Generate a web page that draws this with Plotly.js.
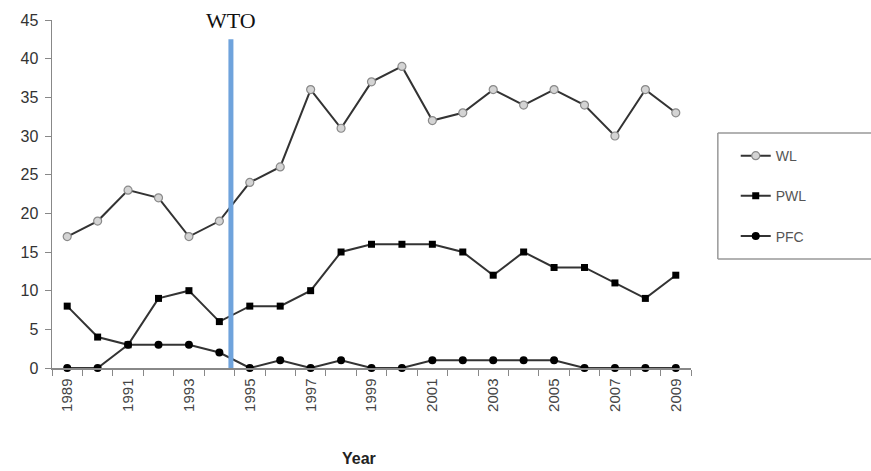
<!DOCTYPE html>
<html>
<head>
<meta charset="utf-8">
<script src="https://cdn.plot.ly/plotly-3.0.1.min.js"></script>
<style>html,body{margin:0;padding:0;background:#fff;overflow:hidden;}#chart{width:871px;height:471px;}</style>
</head>
<body>
<div id="chart"></div>
<script>
var years = [1989,1990,1991,1992,1993,1994,1995,1996,1997,1998,1999,2000,2001,2002,2003,2004,2005,2006,2007,2008,2009];
var WL  = [17,19,23,22,17,19,24,26,36,31,37,39,32,33,36,34,36,34,30,36,33];
var PWL = [8,4,3,9,10,6,8,8,10,15,16,16,16,15,12,15,13,13,11,9,12];
var PFC = [0,0,3,3,3,2,0,1,0,1,0,0,1,1,1,1,1,0,0,0,0];
var tickYears = [1989,1991,1993,1995,1997,1999,2001,2003,2005,2007,2009];
var wtoYear = 1994.38;
var wtoTop = 42.5;
var wtoLabel = "WTO";
var xTitle = "Year";

var boundaries = years.map(function(y){return y - 0.5;}).concat([years[years.length-1] + 0.5]);

var traces = [
  {x: years, y: WL, name: 'WL', type: 'scatter', mode: 'lines+markers', legendgroup: 'a',
   line: {color: '#333', width: 2},
   marker: {symbol: 'circle', size: 8, color: '#d4d4d4', line: {color: '#8a8a8a', width: 1.2}},
   cliponaxis: false},
  {x: years, y: PWL, name: 'PWL', type: 'scatter', mode: 'lines+markers', legendgroup: 'b',
   line: {color: '#333', width: 2},
   marker: {symbol: 'square', size: 7, color: '#000'},
   cliponaxis: false},
  {x: years, y: PFC, name: 'PFC', type: 'scatter', mode: 'lines+markers', legendgroup: 'c',
   line: {color: '#333', width: 2},
   marker: {symbol: 'circle', size: 8, color: '#000'},
   cliponaxis: false}
];

var boxStyle = {color: '#999', width: 1.5};
var layout = {
  width: 871, height: 471,
  margin: {l: 52, r: 180, t: 20, b: 103},
  paper_bgcolor: '#fff', plot_bgcolor: '#fff',
  font: {family: 'Liberation Sans, Arial, sans-serif', color: '#333'},
  showlegend: true,
  legend: {x: 1.07, y: 0.655, xanchor: 'left', yanchor: 'top', bgcolor: 'rgba(0,0,0,0)',
           font: {size: 14, color: '#555'}, tracegroupgap: 19, itemwidth: 30},
  xaxis: {
    range: [1988.5, 2009.5], showgrid: false, zeroline: false,
    showline: true, linecolor: '#888', linewidth: 1.5,
    tickmode: 'array', tickvals: tickYears, ticktext: tickYears.map(String),
    ticks: '', tickangle: -90, tickfont: {size: 15, color: '#444'}, ticklabelstandoff: 3,
    minor: {tickmode: 'array', tickvals: boundaries, ticks: 'outside', ticklen: 6, tickcolor: '#888', tickwidth: 1, showgrid: false}
  },
  yaxis: {
    range: [0, 45], dtick: 5, showgrid: false, zeroline: false,
    showline: true, linecolor: '#888', linewidth: 1.5,
    ticks: 'outside', ticklen: 6, tickcolor: '#888',
    tickfont: {size: 16, color: '#333'}, ticklabelstandoff: 3
  },
  shapes: [
    {type: 'line', xref: 'x', yref: 'y', x0: wtoYear, x1: wtoYear, y0: 0, y1: wtoTop,
     line: {color: '#6fa3dc', width: 5}},
    {type: 'line', xref: 'paper', yref: 'paper', x0: 1.042, x1: 1.042, y0: 0.313, y1: 0.675, line: boxStyle},
    {type: 'line', xref: 'paper', yref: 'paper', x0: 1.042, x1: 1.5, y0: 0.675, y1: 0.675, line: boxStyle},
    {type: 'line', xref: 'paper', yref: 'paper', x0: 1.042, x1: 1.5, y0: 0.313, y1: 0.313, line: boxStyle}
  ],
  annotations: [
    {xref: 'x', yref: 'paper', x: wtoYear, y: 1.0, yanchor: 'middle', xanchor: 'center',
     text: wtoLabel, showarrow: false,
     font: {family: 'Liberation Serif, Times New Roman, serif', size: 22, color: '#111'}},
    {xref: 'paper', yref: 'paper', x: 0.48, y: -0.261, yanchor: 'middle', xanchor: 'center',
     text: '<b>' + xTitle + '</b>', showarrow: false,
     font: {size: 16, color: '#222'}}
  ]
};

Plotly.newPlot('chart', traces, layout, {displayModeBar: false, staticPlot: true});
</script>
</body>
</html>
